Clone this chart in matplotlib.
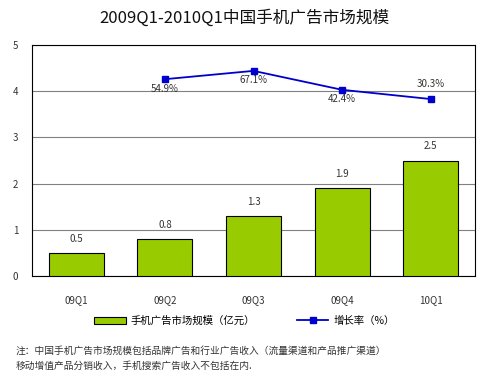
import matplotlib.pyplot as plt
import numpy as np

plt.rcParams['font.family'] = ['Noto Sans CJK SC', 'DejaVu Sans']

quarters = ['09Q1', '09Q2', '09Q3', '09Q4', '10Q1']
market_size = [0.5, 0.8, 1.3, 1.9, 2.5]
growth_quarters = ['09Q2', '09Q3', '09Q4', '10Q1']
growth_rate = [54.9, 67.1, 42.4, 30.3]
# positions of the growth markers as drawn on the left axis scale
growth_pos = [4.26, 4.44, 4.03, 3.83]

fig = plt.figure(figsize=(4.89, 3.74), dpi=100)
ax = fig.add_axes([32/489, 1 - 276/374, 443/489, 231/374])

x = np.arange(len(quarters))
bars = ax.bar(x, market_size, width=0.62, color='#99CC00', edgecolor='black',
              linewidth=0.8, label='手机广告市场规模（亿元）', zorder=3)
for xi, v in zip(x, market_size):
    ax.text(xi, v + 0.2, str(v), ha='center', va='bottom', fontsize=7, color='#333333')

gx = [quarters.index(q) for q in growth_quarters]
line, = ax.plot(gx, growth_pos, color='#0000CC', marker='s', markersize=5, linewidth=1.3,
                label='增长率（%）', zorder=4)
for i, (xi, yp, g) in enumerate(zip(gx, growth_pos, growth_rate)):
    if i == len(gx) - 1:
        ax.text(xi, yp + 0.22, '%.1f%%' % g, ha='center', va='bottom', fontsize=7, color='#333333')
    else:
        ax.text(xi, yp - 0.1, '%.1f%%' % g, ha='center', va='top', fontsize=7, color='#333333')

ax.set_xlim(-0.5, 4.5)
ax.set_ylim(0, 5)
ax.set_yticks(range(6))
ax.yaxis.grid(True, color='#808080', linewidth=0.8, zorder=0)
ax.set_xticks(x)
ax.set_xticklabels(quarters)
ax.tick_params(axis='both', length=0, labelsize=7, colors='#333333')
ax.tick_params(axis='x', pad=14)
ax.tick_params(axis='y', pad=10)
for s in ax.spines.values():
    s.set_color('black')
    s.set_linewidth(0.8)

fig.suptitle('2009Q1-2010Q1中国手机广告市场规模', y=0.975, fontsize=12, color='#111111',
             fontweight='medium')

fig.legend([bars, line], ['手机广告市场规模（亿元）', '增长率（%）'],
           loc='center', bbox_to_anchor=(0.5, 1 - 321/374), ncol=2, frameon=False,
           fontsize=7.5, handlelength=3.0, columnspacing=4, handletextpad=0.5)

fig.text(16/489, 1 - 351/374, '注：中国手机广告市场规模包括品牌广告和行业广告收入（流量渠道和产品推广渠道）',
         fontsize=7, color='#333333', va='center')
fig.text(16/489, 1 - 366/374, '移动增值产品分销收入，手机搜索广告收入不包括在内.',
         fontsize=7, color='#333333', va='center')

fig.savefig('out.png', dpi=100)
